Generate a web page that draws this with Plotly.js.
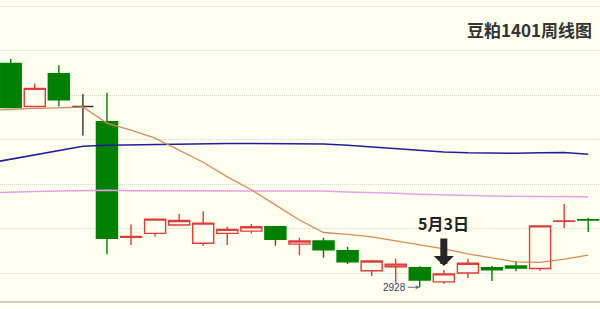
<!DOCTYPE html>
<html>
<head>
<meta charset="utf-8">
<script src="https://cdn.plot.ly/plotly-3.0.1.min.js"></script>
<style>
  html, body { margin: 0; padding: 0; background: #fffff0; }
  #chart { width: 600px; height: 309px; }
</style>
</head>
<body>
<div id="chart"></div>
<script>
// Weekly bars of soybean meal contract 1401 (index = week number)
const weeks = [0,1,2,3,4,5,6,7,8,9,10,11,12,13,14,15,16,17,18,19,20,21,22,23,24];
const openPx  = [3431,3334,3408,3334,3300,3040,3049,3068,3027,3049,3054,3064,3025,3032,3010,2965,2974,2972,2940,2960,2972,2976,2970,3076,3080];
const highPx  = [3441,3386,3427,3362,3365,3069,3082,3093,3099,3064,3070,3065,3039,3039,3019,2989,2992,2975,2967,2992,2976,2987,3066,3115,3084];
const lowPx   = [3330,3333,3334,3269,3002,3023,3042,3067,3021,3023,3049,3021,3000,2994,2980,2953,2938,2928,2936,2949,2942,2964,2965,3061,3052];
const closePx = [3332,3375,3349,3334,3038,3042,3081,3078,3072,3058,3064,3036,3032,3012,2985,2987,2980,2944,2958,2982,2967,2971,3066,3077,3079];

// Moving averages, starting one week before the first visible bar
const maWeeks = [-1,0,1,2,3,4,5,6,7,8,9,10,11,12,13,14,15,16,17,18,19,20,21,22,23,24];
const maShort = [3325,3328,3330,3331,3333,3297,3281,3263,3236,3209,3176,3147,3113,3079,3051,3047,3041,3032,3023,3014,3003,2994,2985,2984,2991,3000];
const maMid   = [3206,3216,3225,3235,3245,3247,3248,3249,3250,3251,3251,3251,3251,3250,3250,3247,3243,3239,3235,3232,3230,3229,3229,3230,3231,3227];
const maLong  = [3140,3142,3143,3144,3145,3146,3145,3145,3145,3145,3145,3145,3145,3145,3144,3142,3141,3139,3137,3135,3134,3133,3132,3132,3132,3131];

// Callouts
const lowLabel = '2928';
const lowWeek = 17;
const lowValue = 2928;
const markWeek = 18;
const markText = '5月3日';
const chartTitle = '豆粕1401周线图';

const BG = '#fffff0';
const UP = '#e23b3b';
const DOWN = '#008000';
const FLAT = '#333333';

function pick(arr, idx) { return idx.map(i => arr[i]); }
const moving = weeks.filter(i => openPx[i] !== closePx[i]);
const flat = weeks.filter(i => openPx[i] === closePx[i]);

const traces = [
  {
    type: 'candlestick',
    x: pick(weeks, moving), open: pick(openPx, moving), high: pick(highPx, moving),
    low: pick(lowPx, moving), close: pick(closePx, moving),
    increasing: { line: { color: UP, width: 1.4 }, fillcolor: BG },
    decreasing: { line: { color: DOWN, width: 1.4 }, fillcolor: DOWN },
    whiskerwidth: 0, hoverinfo: 'skip', showlegend: false
  },
  {
    type: 'candlestick',
    x: pick(weeks, flat), open: pick(openPx, flat), high: pick(highPx, flat),
    low: pick(lowPx, flat), close: pick(closePx, flat),
    increasing: { line: { color: FLAT, width: 1.4 }, fillcolor: FLAT },
    decreasing: { line: { color: FLAT, width: 1.4 }, fillcolor: FLAT },
    whiskerwidth: 0, hoverinfo: 'skip', showlegend: false
  },
  { type: 'scatter', mode: 'lines', x: maWeeks, y: maLong,
    line: { color: '#e8a0e6', width: 1.5 }, hoverinfo: 'skip', showlegend: false },
  { type: 'scatter', mode: 'lines', x: maWeeks, y: maMid,
    line: { color: '#1f1f9c', width: 1.5 }, hoverinfo: 'skip', showlegend: false },
  { type: 'scatter', mode: 'lines', x: maWeeks, y: maShort,
    line: { color: '#d98a5c', width: 1.3 }, hoverinfo: 'skip', showlegend: false }
];

const layout = {
  width: 600, height: 309,
  margin: { l: 0, r: 0, t: 0, b: 0 },
  paper_bgcolor: BG, plot_bgcolor: BG,
  boxgap: 0.125, boxgroupgap: 0,
  showlegend: false,
  xaxis: {
    range: [-0.445, 24.49], showgrid: false, zeroline: false,
    showticklabels: false, ticks: '', showline: false,
    rangeslider: { visible: false }, fixedrange: true
  },
  yaxis: {
    range: [2879.1, 3573.5], tick0: 2960, dtick: 100,
    showgrid: true, gridcolor: '#d6d6d0', griddash: '1px,1px', gridwidth: 1,
    zeroline: false, showticklabels: false, ticks: '', showline: false, fixedrange: true
  },
  shapes: [
    { type: 'line', xref: 'paper', yref: 'paper', x0: 0, x1: 1, y0: 7 / 309, y1: 7 / 309,
      line: { color: '#bdbdb5', width: 1.5 } }
  ],
  annotations: [
    { xref: 'paper', yref: 'paper', x: 594 / 600, y: 1 - 29.5 / 309,
      xanchor: 'right', yanchor: 'middle', showarrow: false, text: chartTitle,
      font: { family: 'Noto Sans CJK SC', size: 17, color: '#333333', weight: 'bold' } },
    { x: markWeek, y: 3072, xref: 'x', yref: 'y', showarrow: false, text: markText,
      xanchor: 'center', yanchor: 'middle',
      font: { family: 'Noto Sans CJK SC', size: 16, color: '#222222', weight: 'bold' } },
    { x: markWeek, y: 2975.7, xref: 'x', yref: 'y', text: '', showarrow: true,
      ax: 0, ay: -29, arrowhead: 1, arrowwidth: 7, arrowsize: 0.48,
      arrowcolor: '#262626', standoff: 0 },
    { x: lowWeek, y: lowValue, xref: 'x', yref: 'y', text: lowLabel, showarrow: true,
      ax: -25, ay: 0, arrowhead: 2, arrowwidth: 1, arrowsize: 0.8,
      arrowcolor: '#667080', standoff: 0,
      font: { family: 'Liberation Sans', size: 10, color: '#34416a' } }
  ]
};

Plotly.newPlot('chart', traces, layout, { staticPlot: true, displayModeBar: false });
</script>
</body>
</html>
